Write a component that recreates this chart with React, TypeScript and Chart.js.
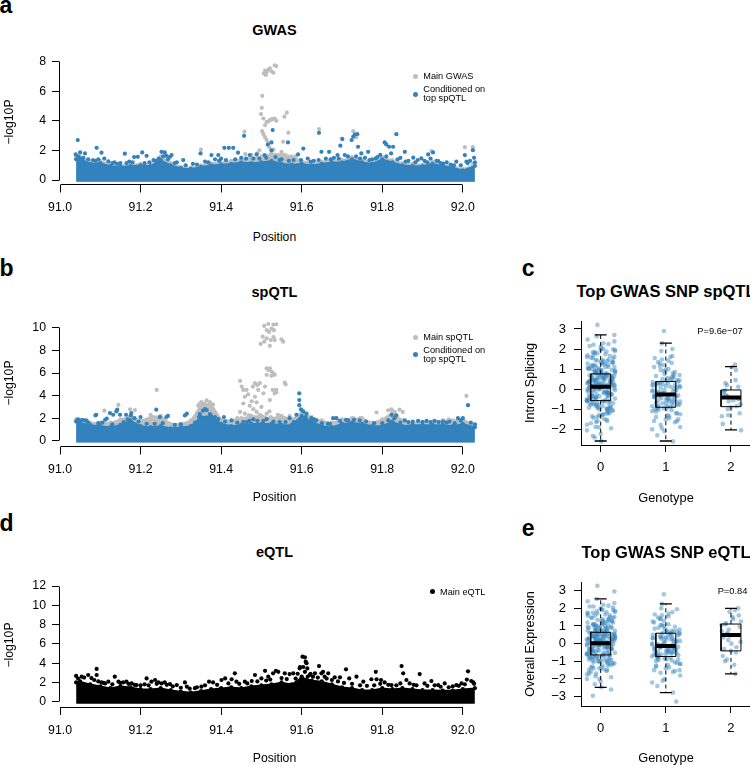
import React, { useEffect, useRef } from 'react';
import { Chart, registerables } from 'chart.js';
Chart.register(...registerables);

const FONT = "'Liberation Sans', Arial, Helvetica, sans-serif";
const BLUE = '#3182bd';
const GRAY = '#bebebe';
const BLACK = '#000000';
const JIT_BLUE = 'rgba(49,130,189,0.45)';

// ---------- axis ticks ----------
const X_TICKS = [91.0, 91.2, 91.4, 91.6, 91.8, 92.0];
const A_Y_TICKS = [0, 2, 4, 6, 8];
const B_Y_TICKS = [0, 2, 4, 6, 8, 10];
const D_Y_TICKS = [0, 2, 4, 6, 8, 10, 12];
const C_Y_TICKS = [-2, -1, 0, 1, 2, 3];
const E_Y_TICKS = [-3, -2, -1, 0, 1, 2, 3];
const GENO_TICKS = [0, 1, 2];

// ---------- dense-band upper envelope (position grid, Mb) ----------
const ENV_POS = [91.04, 91.05, 91.075, 91.1, 91.125, 91.15, 91.175, 91.2, 91.225, 91.25, 91.275, 91.3, 91.325, 91.35, 91.375, 91.4, 91.425, 91.45, 91.475, 91.5, 91.525, 91.55, 91.575, 91.6, 91.625, 91.65, 91.675, 91.7, 91.725, 91.75, 91.775, 91.8, 91.825, 91.85, 91.875, 91.9, 91.925, 91.95, 91.975, 92.0, 92.03];

// Panel a: GWAS
const A_MAIN_ENV = [1.55, 1.6, 1.25, 1.3, 1.05, 1.0, 1.05, 1.1, 1.05, 1.6, 1.15, 0.9, 0.85, 1.0, 1.15, 1.2, 1.3, 1.4, 1.5, 1.6, 1.8, 1.75, 1.6, 1.3, 1.15, 1.25, 1.35, 1.35, 1.55, 1.35, 1.25, 1.55, 1.35, 1.15, 1.1, 1.05, 1.25, 1.05, 0.95, 0.75, 1.05];
const A_COND_ENV = [1.4, 1.45, 1.1, 1.15, 0.95, 0.9, 0.95, 1.0, 0.95, 1.35, 1.0, 0.8, 0.75, 0.9, 1.0, 1.05, 1.1, 1.2, 1.15, 1.2, 1.3, 1.1, 1.05, 1.1, 1.0, 1.1, 1.2, 1.2, 1.4, 1.2, 1.1, 1.4, 1.2, 1.0, 0.95, 0.95, 1.1, 0.95, 0.85, 0.65, 0.95];
const A_MAIN_PTS = [
  [91.506, 7.2], [91.509, 7.4], [91.513, 7.3], [91.517, 7.45], [91.521, 7.55], [91.525, 7.35], [91.53, 7.25], [91.533, 7.75], [91.537, 7.7], [91.511, 7.1],
  [91.502, 5.69], [91.501, 4.88], [91.499, 4.46], [91.505, 4.16], [91.509, 3.71], [91.513, 3.94], [91.517, 3.95], [91.521, 4.05], [91.525, 4.1], [91.529, 4.13],
  [91.533, 4.15], [91.537, 4.0], [91.502, 3.3], [91.505, 3.1], [91.509, 2.9], [91.513, 2.7], [91.517, 2.5], [91.52, 2.2], [91.53, 2.05], [91.557, 4.28],
  [91.563, 4.55], [91.567, 3.2], [91.458, 3.27], [91.643, 3.45], [91.7, 2.8], [91.728, 3.3], [91.735, 2.88], [91.554, 2.59], [91.55, 1.9], [91.558, 1.7],
  [91.565, 1.6], [91.575, 1.55], [91.545, 1.6], [91.538, 1.7], [91.585, 1.6], [91.35, 2.05], [91.26, 1.9], [91.922, 1.96], [92.005, 2.22], [92.025, 2.22],
  [92.025, 1.1], [91.46, 1.75], [91.475, 1.7], [91.49, 1.8], [91.495, 2.0]
];
const A_COND_PTS = [
  [91.044, 2.7], [91.039, 1.73], [91.05, 1.87], [91.062, 1.8], [91.091, 2.18], [91.103, 1.85], [91.12, 1.27], [91.161, 1.78], [91.184, 1.55], [91.193, 1.57],
  [91.204, 1.87], [91.215, 1.64], [91.232, 1.35], [91.252, 1.91], [91.26, 1.85], [91.264, 1.64], [91.273, 1.57], [91.277, 1.69], [91.306, 1.35], [91.349, 1.8],
  [91.376, 1.69], [91.393, 1.69], [91.408, 2.18], [91.419, 2.18], [91.43, 2.18], [91.442, 1.85], [91.457, 2.99], [91.471, 1.69], [91.488, 1.73], [91.508, 1.69],
  [91.516, 2.4], [91.525, 2.0], [91.528, 3.38], [91.525, 2.54], [91.566, 2.54], [91.604, 2.13], [91.591, 1.73], [91.643, 3.19], [91.649, 1.91], [91.668, 1.91],
  [91.689, 1.69], [91.696, 2.32], [91.701, 2.77], [91.707, 1.69], [91.724, 2.7], [91.728, 2.93], [91.732, 3.08], [91.738, 3.1], [91.74, 2.25], [91.748, 1.8],
  [91.765, 1.91], [91.784, 1.46], [91.806, 2.54], [91.81, 2.41], [91.817, 2.25], [91.827, 2.25], [91.835, 3.1], [91.856, 1.91], [91.877, 1.51], [91.897, 1.46],
  [91.914, 1.73], [91.926, 1.87], [91.939, 1.28], [91.951, 1.12], [91.984, 1.24], [92.005, 1.69], [92.009, 1.24], [92.025, 2.02],
  [91.07, 1.4], [91.082, 1.35], [91.11, 1.45], [91.135, 1.2], [91.15, 1.15], [91.172, 1.25], [91.222, 1.2], [91.245, 1.45], [91.29, 1.2], [91.33, 1.1],
  [91.36, 1.25], [91.385, 1.4], [91.4, 1.45], [91.45, 1.5], [91.48, 1.45], [91.535, 1.55], [91.55, 1.4], [91.58, 1.35], [91.615, 1.45], [91.63, 1.3],
  [91.66, 1.45], [91.68, 1.5], [91.715, 1.6], [91.757, 1.5], [91.775, 1.4], [91.795, 1.7], [91.822, 1.8], [91.845, 1.5], [91.865, 1.3], [91.888, 1.35],
  [91.905, 1.3], [91.92, 1.45], [91.96, 1.2], [91.97, 1.05], [91.995, 1.0], [92.018, 1.3], [92.028, 1.5],
  [91.045, 1.6], [91.058, 1.5], [91.088, 1.3], [91.095, 1.4], [91.13, 1.15], [91.142, 1.1], [91.165, 1.15], [91.18, 1.2], [91.21, 1.15], [91.238, 1.3],
  [91.256, 1.6], [91.268, 1.4], [91.285, 1.15], [91.312, 1.0], [91.34, 1.05], [91.368, 1.2], [91.395, 1.3], [91.412, 1.35], [91.435, 1.4], [91.462, 1.45],
  [91.495, 1.45], [91.512, 1.5], [91.545, 1.35], [91.568, 1.3], [91.598, 1.35], [91.622, 1.25], [91.642, 1.35], [91.672, 1.4], [91.692, 1.45], [91.735, 1.6],
  [91.745, 1.45], [91.768, 1.35], [91.788, 1.55], [91.81, 1.6], [91.838, 1.4], [91.858, 1.25], [91.882, 1.2], [91.912, 1.2], [91.935, 1.3], [91.945, 1.15],
  [91.978, 1.0], [92.012, 1.15], [92.03, 1.2]
];

// Panel b: spQTL
const B_MAIN_ENV = [1.9, 1.8, 1.6, 1.6, 1.6, 1.9, 2.2, 1.8, 2.1, 2.2, 1.5, 1.5, 1.8, 3.2, 3.3, 1.9, 1.8, 2.0, 2.2, 2.2, 2.0, 2.2, 1.9, 2.5, 2.1, 1.8, 1.6, 1.9, 2.0, 2.0, 1.6, 1.9, 2.5, 1.8, 1.6, 1.7, 1.7, 1.8, 1.8, 1.9, 1.4];
const B_COND_ENV = [1.7, 1.6, 1.4, 1.3, 1.2, 1.4, 1.8, 1.3, 1.2, 1.3, 1.1, 1.2, 1.3, 2.1, 2.2, 1.5, 1.3, 1.4, 1.5, 1.5, 1.5, 1.4, 1.4, 2.2, 1.7, 1.3, 1.2, 1.5, 1.6, 1.5, 1.3, 1.3, 1.7, 1.3, 1.4, 1.4, 1.4, 1.4, 1.3, 1.5, 1.2];
const B_MAIN_PTS = [
  [91.507, 10.18], [91.517, 10.35], [91.53, 10.3], [91.537, 10.33], [91.513, 9.8], [91.519, 9.65], [91.525, 9.95], [91.531, 9.8], [91.503, 9.23], [91.513, 9.08],
  [91.523, 8.93], [91.53, 9.2], [91.498, 8.58], [91.507, 8.78], [91.521, 8.42], [91.533, 8.93], [91.55, 8.99], [91.554, 8.78],
  [91.513, 6.42], [91.517, 6.27], [91.521, 6.42], [91.525, 6.13], [91.53, 5.98], [91.533, 5.84], [91.513, 5.84], [91.525, 5.75], [91.537, 4.5], [91.558, 5.15],
  [91.56, 5.0], [91.528, 4.5], [91.533, 4.2], [91.521, 3.6],
  [91.447, 5.3], [91.451, 4.8], [91.455, 4.5], [91.463, 4.5], [91.467, 4.1], [91.459, 3.9], [91.455, 3.3], [91.471, 3.1], [91.48, 2.8], [91.488, 3.4],
  [91.492, 4.5], [91.496, 5.1], [91.49, 4.95], [91.484, 3.9], [91.505, 4.2], [91.509, 4.8], [91.476, 3.5], [91.447, 2.55], [91.459, 2.4], [91.469, 2.25],
  [91.488, 2.55], [91.496, 2.3], [91.505, 2.1], [91.513, 2.4], [91.523, 2.1], [91.537, 4.3], [91.484, 5.1], [91.479, 4.8], [91.5, 3.0], [91.44, 2.0],
  [91.52, 2.6], [91.541, 2.3], [91.554, 2.0], [91.57, 2.2], [91.58, 1.9], [91.59, 2.3],
  [91.24, 4.5], [91.145, 3.17], [91.11, 2.66], [91.174, 2.78], [91.186, 2.72], [91.232, 2.1], [91.225, 2.3], [91.351, 3.42], [91.364, 3.57], [91.372, 3.42],
  [91.343, 3.1], [91.358, 3.3], [91.347, 3.3], [91.38, 3.2], [91.597, 2.8], [91.62, 2.0], [91.645, 1.7], [91.686, 2.0], [91.728, 2.0], [91.745, 2.0],
  [91.786, 2.5], [91.815, 2.7], [91.823, 2.78], [91.831, 2.56], [91.843, 2.75], [91.851, 2.55], [92.009, 3.97], [91.965, 1.9], [91.952, 1.8]
];
const B_COND_PTS = [
  [91.043, 1.78], [91.047, 1.75], [91.062, 1.8], [91.066, 1.78], [91.088, 2.24], [91.09, 2.3], [91.112, 1.85], [91.116, 1.95], [91.124, 2.45], [91.132, 2.3],
  [91.14, 2.6], [91.142, 2.75], [91.149, 2.3], [91.164, 2.3], [91.176, 2.24], [91.177, 2.45], [91.2, 2.1], [91.239, 2.75], [91.248, 2.1], [91.264, 2.1],
  [91.268, 2.2], [91.31, 2.24], [91.315, 2.4], [91.347, 2.36], [91.355, 2.66], [91.364, 2.72], [91.372, 2.36], [91.36, 2.8], [91.393, 1.92], [91.407, 2.1],
  [91.426, 1.8], [91.463, 1.64], [91.48, 1.9], [91.513, 1.92], [91.57, 2.0], [91.587, 2.3], [91.594, 4.2], [91.594, 3.6], [91.594, 3.15], [91.599, 2.75],
  [91.604, 2.6], [91.612, 2.4], [91.624, 2.0], [91.636, 1.8], [91.665, 1.5], [91.678, 2.0], [91.686, 2.0], [91.715, 1.8], [91.744, 1.8], [91.823, 2.3],
  [91.835, 2.25], [91.856, 1.8], [91.876, 1.7], [91.889, 1.75], [91.91, 1.75], [91.93, 1.75], [91.951, 1.7], [91.967, 1.7], [91.988, 2.0], [92.0, 2.0],
  [92.013, 3.15],
  [91.045, 1.9], [91.055, 1.85], [91.07, 1.6], [91.095, 1.55], [91.105, 1.6], [91.13, 1.45], [91.158, 1.65], [91.168, 1.9], [91.185, 2.0], [91.195, 1.7],
  [91.215, 1.5], [91.235, 1.5], [91.255, 1.55], [91.285, 1.4], [91.3, 1.45], [91.335, 1.6], [91.345, 2.1], [91.385, 2.1], [91.41, 1.7], [91.44, 1.6],
  [91.455, 1.65], [91.47, 1.75], [91.49, 1.75], [91.505, 1.75], [91.53, 1.7], [91.545, 1.65], [91.56, 1.65], [91.58, 1.65], [91.61, 2.1], [91.63, 1.9],
  [91.65, 1.55], [91.67, 1.5], [91.695, 1.75], [91.71, 1.85], [91.73, 1.85], [91.76, 1.7], [91.78, 1.55], [91.8, 1.55], [91.815, 1.8], [91.83, 2.0],
  [91.845, 1.6], [91.865, 1.65], [91.9, 1.65], [91.92, 1.65], [91.94, 1.65], [91.96, 1.6], [91.98, 1.55], [91.995, 1.8], [92.02, 1.6], [92.03, 1.45]
];

// Panel d: eQTL
const D_MAIN_ENV = [2.0, 2.1, 1.8, 1.6, 1.4, 1.6, 1.5, 1.3, 1.3, 1.4, 1.2, 1.05, 0.95, 1.1, 1.3, 1.4, 1.5, 1.4, 1.6, 1.7, 1.8, 2.0, 1.8, 2.5, 2.2, 2.1, 1.8, 1.5, 1.4, 1.2, 1.2, 1.4, 1.3, 1.4, 1.3, 1.2, 1.2, 1.15, 1.15, 1.3, 1.4];
const D_MAIN_PTS = [
  [91.04, 2.67], [91.054, 2.6], [91.07, 2.77], [91.091, 3.4], [91.091, 2.77], [91.085, 2.25], [91.103, 2.0], [91.112, 1.9], [91.12, 2.08], [91.136, 2.6],
  [91.145, 2.08], [91.157, 2.0], [91.165, 2.08], [91.178, 1.9], [91.19, 1.73], [91.215, 2.42], [91.227, 2.08], [91.236, 2.25], [91.244, 2.0], [91.252, 1.9],
  [91.26, 2.0], [91.273, 1.83], [91.29, 1.73], [91.31, 2.0], [91.315, 1.56], [91.335, 1.4], [91.351, 1.56], [91.37, 2.08], [91.38, 2.0], [91.401, 2.25],
  [91.41, 2.42], [91.426, 2.33], [91.434, 2.94], [91.438, 2.08], [91.459, 2.08], [91.476, 2.15], [91.484, 2.77], [91.5, 2.42], [91.509, 3.2], [91.517, 2.6],
  [91.529, 2.94], [91.536, 3.2], [91.542, 3.1], [91.558, 2.94], [91.57, 2.87], [91.579, 2.94], [91.595, 3.46], [91.602, 4.67], [91.608, 4.6], [91.61, 4.15],
  [91.612, 4.0], [91.604, 3.6], [91.596, 3.6], [91.614, 3.45], [91.608, 3.1], [91.6, 2.6], [91.62, 2.77], [91.622, 2.9], [91.633, 2.94], [91.643, 3.7],
  [91.649, 2.94], [91.653, 3.1], [91.657, 2.6], [91.666, 2.94], [91.682, 2.53], [91.695, 2.53], [91.71, 3.36], [91.718, 2.42], [91.736, 2.6], [91.753, 2.08],
  [91.773, 2.33], [91.784, 3.1], [91.786, 2.33], [91.797, 2.25], [91.806, 2.0], [91.823, 1.73], [91.848, 3.7], [91.852, 2.94], [91.86, 2.25], [91.868, 1.9],
  [91.893, 2.87], [91.905, 1.9], [91.922, 2.15], [91.939, 1.73], [91.955, 1.9], [91.984, 1.73], [91.997, 1.9], [92.013, 3.15], [92.021, 2.15], [92.026, 2.0],
  [92.01, 2.3],
  [91.045, 2.4], [91.06, 2.5], [91.078, 2.45], [91.095, 2.1], [91.108, 1.95], [91.13, 1.8], [91.15, 1.95], [91.17, 1.85], [91.185, 1.75], [91.2, 1.7],
  [91.21, 1.8], [91.22, 1.7], [91.24, 1.85], [91.265, 1.75], [91.28, 1.6], [91.3, 1.45], [91.322, 1.35], [91.34, 1.5], [91.36, 1.7], [91.39, 1.75],
  [91.418, 1.9], [91.445, 1.85], [91.465, 1.9], [91.49, 2.1], [91.512, 2.2], [91.522, 2.3], [91.55, 2.45], [91.563, 2.35], [91.585, 2.4], [91.59, 2.9],
  [91.615, 2.6], [91.628, 2.6], [91.64, 2.5], [91.662, 2.4], [91.675, 2.25], [91.69, 2.1], [91.705, 1.95], [91.725, 1.85], [91.745, 1.7], [91.762, 1.65],
  [91.78, 1.7], [91.795, 1.85], [91.815, 1.75], [91.835, 1.7], [91.845, 1.9], [91.878, 1.75], [91.885, 1.7], [91.912, 1.65], [91.93, 1.7], [91.945, 1.55],
  [91.965, 1.5], [91.975, 1.6], [91.99, 1.65], [92.005, 1.8], [92.028, 1.85]
];

// ---------- Panel c: Top GWAS SNP spQTL (Intron Splicing by genotype) ----------
const C_G0 = [0.12, -0.45, 1.31, 0.67, -1.12, 0.04, 2.21, -0.83, 0.39, -0.2, 1.05, -1.7, 0.58, 0.91, -0.36, 1.74, -2.05, 0.27, -0.61, 1.46, 0.83, -0.04, 2.63, -1.35, 0.48, 0.15, -0.92, 1.19, -0.27, 0.72, 1.95, -0.53, -1.58, 0.33, 0.95, -0.12, 1.62, -0.74, 0.21, -2.41, 0.61, 1.28, -0.39, 0.08, 2.04, -1.01, 0.76, -0.58, 1.38, 0.44, -1.26, 0.02, 1.83, -0.69, 0.55, 3.2, -0.15, 0.99, -1.88, 0.31, 1.12, -0.47, 0.69, -0.97, 1.52, 0.18, -0.31, 2.38, -1.43, 0.86, -0.08, 0.41, 1.69, -0.79, 0.24, -2.6, 1.01, 0.52, -0.55, 1.24, -1.18, 0.11, 2.12, -0.66, 0.79, -0.22, 1.43, -1.52, 0.36, 0.88, -0.88, 0.06, 1.9, -0.41, 0.63, -1.07, 1.33, -0.18, 2.7, 0.47, -1.64, 0.93, -0.63, 0.29, 1.57, -0.02, -1.3, 0.74, 1.09, -0.5, 2.29, -0.86, 0.17, -2.22, 1.21, 0.57, -0.33, 1.78, -0.99, 0.38, 0.03, -1.95, 1.47, 0.81, -0.71, 0.22, 1.99, -0.26, -1.22, 0.65, 1.15, -0.43, 0.46, -1.47, 2.47, 0.14, -0.76, 1.36, 0.97, -0.1, -1.77, 0.53, 1.66, -0.59, 0.26, -2.33, 1.06, 0.71, -0.94, 1.87, -0.29, 0.43,
  0.35, -0.2, 0.9, 0.1, 1.4, -0.7, 0.55, -1.0, 1.1, 0.25, -0.4, 1.8, 0.7, -0.1, 0.45, -1.3, 0.95, 0.05, 1.25, -0.6, 2.0, 0.3, -0.85, 0.65, 1.55, -0.25, 0.15, -1.6, 0.8, 1.05, -0.45, 0.5, 2.25, -0.05, 0.4, -1.15, 1.35, 0.6, -0.3, 0.2, 1.7, -0.8, 0.85, -0.15, 0.0, 1.15, -1.9, 0.75, 0.35, -0.55, 1.6, 0.1, -0.95, 0.55, 1.95, -0.35, 0.28, 1.0, -1.4, 0.68, -0.05, 1.45, 0.42, -0.68, 0.9, 2.15, -0.2, 0.5, -1.05, 1.2, 0.18, -0.5, 0.78, 1.85, -1.25, 0.32, 0.62, -0.9, 1.3, 0.08];
const C_G1 = [-0.28, 0.35, -1.12, 0.9, -0.55, -2.1, 0.12, -0.85, 1.42, -0.4, 0.55, -1.5, -0.15, 2.28, -0.95, 0.25, -0.68, 1.1, -1.78, -0.05, 0.62, -1.25, -0.33, 1.65, -0.78, 0.08, -2.6, 0.44, -1.02, -0.2, 1.28, -0.6, 0.18, -1.38, 2.9, -0.45, 0.75, -0.9, -0.1, 1.0, -1.65, 0.3, -0.72, 1.35, -0.25, -2.3, 0.5, -1.05, -0.38, 0.95, -0.62, 0.02, -1.88, 1.55, -0.5, 0.38, -1.2, -0.12, 0.7, -0.82, 1.9, -0.3, -1.45, 0.22, -0.68, 1.2, -0.98, -0.05, 0.48, -2.0, -0.42, 0.85, -1.3, 0.15, -0.58, 1.48, -0.88, -0.18, 0.6, -1.58, 0.32, -0.35,
  -0.6, 0.1, -1.0, 0.5, -0.3, -1.6, 0.8, -0.75, 0.25, -0.45, 1.15, -1.35, -0.05, 0.65, -0.95, 0.4, -0.2, 1.6, -1.1, -0.5, 0.2, -0.85, 0.95, -0.15, -1.95, 0.3, -0.7, 1.3, -0.4, 0.05, -1.2, 0.7, -0.62, -0.25, 2.0, -1.5, 0.45, -0.8, 0.15, -0.35];
const C_G2 = [-0.45, 1.1, -0.9, 0.3, -1.3, -0.05, -0.6, 1.23, -1.73, -0.35, 0.12, -0.85, -2.05, -0.2, 0.45, -1.2, -0.5, 0.95, -0.75, -0.3, -1.0, 0.2, -0.55, -1.35, -0.1];
const C_Q1 = [-0.57, -0.9, -0.87];
const C_MED = [0.12, -0.26, -0.42];
const C_Q3 = [0.76, 0.38, -0.04];
const C_LO = [-2.58, -2.58, -2.03];
const C_HI = [2.7, 2.29, 1.12];

// ---------- Panel e: Top GWAS SNP eQTL (Overall Expression by genotype) ----------
const E_G0 = [0.02, -0.5, 1.2, 0.55, -1.1, 0.15, 2.1, -0.8, 0.35, -0.25, 0.95, -1.6, 0.48, 0.8, -0.4, 1.65, -2.0, 0.2, -0.65, 1.38, 0.7, -0.1, 2.53, -1.3, 0.4, 0.05, -0.9, 1.1, -0.3, 0.62, 1.85, -0.58, -1.5, 0.25, 0.88, -0.18, 1.52, -0.78, 0.12, -2.3, 0.5, 1.2, -0.45, -0.02, 1.95, -1.05, 0.66, -0.62, 1.3, 0.34, -1.22, -0.06, 1.75, -0.72, 0.45, 3.28, -0.2, 0.9, -1.85, 0.22, 1.02, -0.52, 0.6, -1.0, 1.45, 0.1, -0.35, 2.3, -1.4, 0.75, -0.14, 0.3, 1.58, -0.84, 0.16, -2.47, 0.92, 0.42, -0.6, 1.15, -1.15, 0.0, 2.0, -0.7, 0.68, -0.28, 1.35, -1.55, 0.28, 0.78, -0.92, -0.04, 1.8, -0.46, 0.52, -1.1, 1.25, -0.22, 2.95, 0.38, -1.7, 0.85, -0.68, 0.18, 1.48, -0.08, -1.35, 0.64, 1.0, -0.55, 2.2, -0.9, 0.08, -2.15, 1.1, 0.46, -0.38, 1.7, -1.02, 0.32, -0.01, -1.9, 1.4, 0.72, -0.75, 0.12, 1.9, -0.3, -1.25, 0.56, 1.05, -0.48, 0.36, -1.45, 2.4, 0.04, -0.8, 1.28, 0.86, -0.16, -1.75, 0.44, 1.6, -0.64, 0.2, -2.95, 0.98, 0.6, -0.98, 1.78, -0.34, 0.3, -2.6, 2.15,
  0.3, -0.3, 0.8, -0.05, 1.3, -0.8, 0.45, -1.05, 1.0, 0.15, -0.5, 1.7, 0.6, -0.2, 0.35, -1.4, 0.85, -0.1, 1.15, -0.65, 1.9, 0.2, -0.95, 0.55, 1.45, -0.35, 0.05, -1.7, 0.7, 0.95, -0.55, 0.4, 2.1, -0.15, 0.3, -1.2, 1.25, 0.5, -0.4, 0.1, 1.6, -0.9, 0.75, -0.25, -0.08, 1.05, -2.0, 0.65, 0.25, -0.62, 1.5, 0.0, -1.0, 0.45, 1.85, -0.45, 0.18, 0.9, -1.5, 0.58, -0.12, 1.35, 0.32, -0.75, 0.8, 2.05, -0.3, 0.4, -1.12, 1.1, 0.08, -0.6, 0.68, 1.75, -1.35, 0.22, 0.52, -0.98, 1.2, -0.02];
const E_G1 = [-0.13, 0.5, -1.0, 1.0, -0.45, -2.0, 0.25, -0.72, 1.55, -0.3, 0.65, -1.4, -0.02, 2.25, -0.85, 0.35, -0.55, 1.2, -1.65, 0.08, 0.7, -1.15, -0.22, 1.78, -0.65, 0.18, -2.77, 0.55, -0.92, -0.1, 1.4, -0.5, 0.3, -1.3, 2.8, -0.35, 0.85, -0.8, 0.0, 1.1, -1.55, 0.42, -0.6, 1.48, -0.15, -2.4, 0.6, -0.95, -0.28, 1.05, -0.5, 0.12, -1.8, 1.65, -0.4, 0.48, -1.1, -0.05, 0.8, -0.7, 2.0, -0.2, -1.35, 0.32, -0.58, 1.3, -0.88, 0.05, 0.58, -2.2, -0.33, 0.95, -1.2, 0.22, -0.48, 1.6, -0.76, -0.08, 0.72, -1.5, 0.4, -3.28, -0.25, 0.15,
  -0.4, 0.3, -0.9, 0.7, -0.2, -1.5, 0.9, -0.6, 0.4, -0.3, 1.25, -1.25, 0.1, 0.75, -0.85, 0.55, -0.05, 1.7, -1.05, -0.45, 0.35, -0.75, 1.05, -0.1, -2.1, 0.45, -0.62, 1.4, -0.35, 0.2, -1.15, 0.85, -0.5, -0.18, 1.95, -1.6, 0.6, -0.7, 0.28, -0.25];
const E_G2 = [0.49, 1.5, -0.4, 1.1, 0.2, -1.0, 0.8, 1.9, -0.7, 0.6, 2.0, -0.2, 1.25, 0.35, -1.71, 0.95, 1.6, -0.5, 0.1, 1.15, 0.55, -0.9, 1.4, 0.7, -0.3, 1.8, 0.0, 0.45, -1.2, 1.05];
const E_Q1 = [-0.64, -0.73, -0.41];
const E_MED = [0.02, -0.13, 0.49];
const E_Q3 = [0.64, 0.59, 1.11];
const E_LO = [-2.47, -2.77, -1.71];
const E_HI = [2.53, 2.25, 2.0];

// horizontal jitter offsets (genotype units), cycled over points
const JITTER = [-0.17, 0.05, 0.14, -0.08, 0.21, -0.02, -0.13, 0.1, -0.2, 0.03, 0.16, -0.11, 0.07, -0.05, 0.19, -0.15, 0.0, 0.12, -0.07, -0.21, 0.09, 0.17, -0.03, -0.12, 0.22, -0.09, 0.04, -0.18, 0.11, 0.01, -0.06];
const JITTER_SCALE = [1, 1, 0.7];

// ---------- plugins ----------
const alignPx = (p: number) => Math.round(p - 0.5) + 0.5;

const rAxisLines = {
  id: 'rAxisLines',
  afterDraw(chart: any, _args: any, opts: any) {
    if (!opts || !opts.enabled) return;
    const { ctx, chartArea, scales } = chart;
    const xs = scales.x, ys = scales.y;
    const xt = xs.ticks, yt = ys.ticks;
    ctx.save();
    ctx.strokeStyle = '#000';
    ctx.lineWidth = 1;
    ctx.beginPath();
    const yb = alignPx(chartArea.bottom);
    ctx.moveTo(alignPx(xs.getPixelForValue(xt[0].value)), yb);
    ctx.lineTo(alignPx(xs.getPixelForValue(xt[xt.length - 1].value)), yb);
    const xl = alignPx(chartArea.left);
    ctx.moveTo(xl, alignPx(ys.getPixelForValue(yt[0].value)));
    ctx.lineTo(xl, alignPx(ys.getPixelForValue(yt[yt.length - 1].value)));
    ctx.stroke();
    ctx.restore();
  },
};

const minusFmt = (v: any) => String(v).replace('-', '\u2212');

function axisX(opts: any) {
  return {
    type: 'linear',
    min: opts.min,
    max: opts.max,
    afterBuildTicks: (s: any) => { s.ticks = opts.ticks.map((v: number) => ({ value: v })); },
    afterFit: (s: any) => { s.height = opts.height; s.paddingLeft = 0; s.paddingRight = 0; },
    grid: { display: true, drawOnChartArea: false, drawTicks: true, tickLength: opts.tickLength, color: '#000', lineWidth: 1 },
    border: { display: opts.border, color: '#000', width: 1 },
    ticks: { color: '#000', font: { family: FONT, size: opts.fontSize }, padding: opts.padding, maxRotation: 0, minRotation: 0, autoSkip: false, callback: opts.fmt },
  };
}
function axisY(opts: any) {
  return {
    type: 'linear',
    min: opts.min,
    max: opts.max,
    afterBuildTicks: (s: any) => { s.ticks = opts.ticks.map((v: number) => ({ value: v })); },
    afterFit: (s: any) => { s.width = opts.width; s.paddingTop = 0; s.paddingBottom = 0; },
    grid: { display: true, drawOnChartArea: false, drawTicks: true, tickLength: opts.tickLength, color: '#000', lineWidth: 1 },
    border: { display: opts.border, color: '#000', width: 1 },
    ticks: { color: '#000', font: { family: FONT, size: opts.fontSize }, padding: opts.padding, autoSkip: false, callback: opts.fmt },
  };
}

const basePlugins = { legend: { display: false }, tooltip: { enabled: false }, title: { display: false } };
const baseOptions = (padTop: number, padRight: number) => ({
  responsive: false,
  animation: false,
  events: [],
  layout: { padding: { top: padTop, right: padRight, left: 0, bottom: 0 }, autoPadding: false },
  plugins: basePlugins,
});

function envDataset(env: number[], color: string, base: number, order: number) {
  return {
    type: 'line',
    data: ENV_POS.map((x, i) => ({ x, y: env[i] })),
    borderColor: color,
    borderWidth: 1.5,
    backgroundColor: color,
    fill: { value: base },
    pointRadius: 2.1,
    pointBackgroundColor: color,
    pointBorderWidth: 0,
    tension: 0,
    showLine: true,
    order,
  };
}
function ptsDataset(pts: number[][], color: string, order: number) {
  return {
    type: 'scatter',
    data: pts.map(([x, y]) => ({ x, y })),
    backgroundColor: color,
    borderWidth: 0,
    pointRadius: 2.1,
    order,
  };
}

function manhattan(p: any) {
  return () => ({
    type: 'scatter',
    data: { datasets: p.datasets },
    options: {
      ...baseOptions(p.padTop, p.padRight),
      scales: {
        x: axisX({ min: 90.9975, max: 92.07, ticks: X_TICKS, height: p.xHeight, tickLength: 8, border: false, fontSize: 12.3, padding: 8, fmt: (v: any) => Number(v).toFixed(1) }),
        y: axisY({ min: p.yMin, max: p.yMax, ticks: p.yTicks, width: 59, tickLength: 7, border: false, fontSize: 12.3, padding: 6, fmt: (v: any) => String(v) }),
      },
      plugins: { ...basePlugins, rAxisLines: { enabled: true } },
    },
    plugins: [rAxisLines],
  });
}

function boxDatasets(groups: number[][], q1: number[], med: number[], q3: number[], lo: number[], hi: number[]) {
  const HW = 0.153; // half box width
  const CW = 0.092; // half staple width
  const jit: any[] = [];
  groups.forEach((vals, g) => {
    vals.forEach((v, i) => jit.push({ x: g + JITTER[(i * 7 + g) % JITTER.length] * JITTER_SCALE[g], y: v }));
  });
  const box: any[] = [], wh: any[] = [], caps: any[] = [], mid: any[] = [];
  GENO_TICKS.forEach((g, k) => {
    box.push({ x: g - HW, y: q1[k] }, { x: g + HW, y: q1[k] }, { x: g + HW, y: q3[k] }, { x: g - HW, y: q3[k] }, { x: g - HW, y: q1[k] }, { x: g, y: null });
    wh.push({ x: g, y: q3[k] }, { x: g, y: hi[k] }, { x: g, y: null }, { x: g, y: q1[k] }, { x: g, y: lo[k] }, { x: g, y: null });
    caps.push({ x: g - CW, y: hi[k] }, { x: g + CW, y: hi[k] }, { x: g, y: null }, { x: g - CW, y: lo[k] }, { x: g + CW, y: lo[k] }, { x: g, y: null });
    mid.push({ x: g - HW, y: med[k] }, { x: g + HW, y: med[k] }, { x: g, y: null });
  });
  const line = (data: any[], w: number, dash: number[], order: number) => ({
    type: 'line', data, borderColor: '#000', borderWidth: w, borderDash: dash, pointRadius: 0, showLine: true, spanGaps: false, fill: false, tension: 0, order, borderCapStyle: 'butt',
  });
  return [
    { type: 'scatter', data: jit, backgroundColor: JIT_BLUE, borderWidth: 0, pointRadius: 2.3, order: 5 },
    line(wh, 1, [4, 3], 3),
    line(caps, 1.3, [], 2),
    line(box, 1, [], 1),
    line(mid, 4, [], 0),
  ];
}

function boxChart(p: any) {
  return () => ({
    type: 'scatter',
    data: { datasets: p.datasets },
    options: {
      ...baseOptions(p.padTop, 0),
      scales: {
        x: axisX({ min: -0.302, max: 2.292, ticks: GENO_TICKS, height: p.xHeight, tickLength: 7, border: true, fontSize: 13, padding: 8, fmt: (v: any) => String(v) }),
        y: axisY({ min: p.yMin, max: p.yMax, ticks: p.yTicks, width: 81, tickLength: 7, border: true, fontSize: 13, padding: 8, fmt: minusFmt }),
      },
    },
  });
}

// ---------- components ----------
function ChartCanvas({ left, top, width, height, make }: any) {
  const ref = useRef<HTMLCanvasElement | null>(null);
  useEffect(() => {
    const ch = new Chart(ref.current as HTMLCanvasElement, make() as any);
    return () => ch.destroy();
  }, []);
  return <canvas ref={ref} width={width} height={height} style={{ position: 'absolute', left, top, width, height }} />;
}

function Txt({ x, base, size, bold, anchor = 'middle', children }: any) {
  const style: any = {
    position: 'absolute', top: base - 0.8465 * size, fontFamily: FONT, fontSize: size,
    fontWeight: bold ? 'bold' : 'normal', lineHeight: 1, whiteSpace: 'nowrap', color: '#000',
  };
  if (anchor === 'middle') { style.left = x; style.transform = 'translateX(-50%)'; }
  else style.left = x;
  return <div style={style}>{children}</div>;
}
function VTxt({ x, y, size, children }: any) {
  return (
    <div style={{ position: 'absolute', left: x, top: y, transform: 'translate(-50%,-50%) rotate(-90deg)', fontFamily: FONT, fontSize: size, lineHeight: 1, whiteSpace: 'nowrap', color: '#000' }}>
      {children}
    </div>
  );
}
function Dot({ x, y, color }: any) {
  return <div style={{ position: 'absolute', left: x - 2.5, top: y - 2.5, width: 5, height: 5, borderRadius: '50%', background: color }} />;
}

const makeA = manhattan({
  padTop: 8.7, padRight: 9, xHeight: 45.5, yMin: -0.3, yMax: 8.2, yTicks: A_Y_TICKS,
  datasets: [
    envDataset(A_MAIN_ENV, GRAY, -0.12, 4),
    ptsDataset(A_MAIN_PTS, GRAY, 3),
    envDataset(A_COND_ENV, BLUE, -0.12, 2),
    ptsDataset(A_COND_PTS, BLUE, 1),
  ],
});
const makeB = manhattan({
  padTop: 6.2, padRight: 9, xHeight: 48.5, yMin: -0.515, yMax: 10.6, yTicks: B_Y_TICKS,
  datasets: [
    envDataset(B_MAIN_ENV, GRAY, -0.16, 4),
    ptsDataset(B_MAIN_PTS, GRAY, 3),
    envDataset(B_COND_ENV, BLUE, -0.16, 2),
    ptsDataset(B_COND_PTS, BLUE, 1),
  ],
});
const makeD = manhattan({
  padTop: 7.2, padRight: 9, xHeight: 48, yMin: -0.55, yMax: 12.4, yTicks: D_Y_TICKS,
  datasets: [
    envDataset(D_MAIN_ENV, BLACK, -0.2, 2),
    ptsDataset(D_MAIN_PTS, BLACK, 1),
  ],
});
const makeC = boxChart({
  padTop: 21.7, xHeight: 55, yMin: -2.78, yMax: 3.36, yTicks: C_Y_TICKS,
  datasets: boxDatasets([C_G0, C_G1, C_G2], C_Q1, C_MED, C_Q3, C_LO, C_HI),
});
const makeE = boxChart({
  padTop: 22.7, xHeight: 54, yMin: -3.53, yMax: 3.45, yTicks: E_Y_TICKS,
  datasets: boxDatasets([E_G0, E_G1, E_G2], E_Q1, E_MED, E_Q3, E_LO, E_HI),
});

export default function App() {
  return (
    <div style={{ position: 'absolute', left: 0, top: 0, width: 750, height: 765, background: '#fff', overflow: 'hidden' }}>
      <ChartCanvas left={0} top={50} width={500} height={180} make={makeA} />
      <ChartCanvas left={0} top={315} width={500} height={180} make={makeB} />
      <ChartCanvas left={0} top={575} width={500} height={180} make={makeD} />
      <ChartCanvas left={500} top={300} width={250} height={200} make={makeC} />
      <ChartCanvas left={500} top={560} width={250} height={200} make={makeE} />

      <Txt x={-0.5} base={13.3} size={23} bold anchor="start">a</Txt>
      <Txt x={-0.5} base={276.7} size={23} bold anchor="start">b</Txt>
      <Txt x={521.7} base={276.7} size={23} bold anchor="start">c</Txt>
      <Txt x={-0.5} base={531.7} size={23} bold anchor="start">d</Txt>
      <Txt x={521.7} base={536.7} size={23} bold anchor="start">e</Txt>

      <Txt x={274.5} base={35} size={14.5} bold>GWAS</Txt>
      <Txt x={274.5} base={297.5} size={14.5} bold>spQTL</Txt>
      <Txt x={274.5} base={557.3} size={14.5} bold>eQTL</Txt>
      <Txt x={666} base={296.5} size={16.5} bold>Top GWAS SNP spQTL</Txt>
      <Txt x={666} base={557.8} size={16.5} bold>Top GWAS SNP eQTL</Txt>

      <Txt x={274.5} base={241.7} size={12.2}>Position</Txt>
      <Txt x={274.5} base={501.5} size={12.2}>Position</Txt>
      <Txt x={274.5} base={762.5} size={12.2}>Position</Txt>
      <Txt x={666} base={502.5} size={12.8}>Genotype</Txt>
      <Txt x={666} base={762.5} size={12.8}>Genotype</Txt>

      <VTxt x={9} y={122} size={12.2}>{'\u2212log10P'}</VTxt>
      <VTxt x={9} y={383} size={12.2}>{'\u2212log10P'}</VTxt>
      <VTxt x={9} y={644.5} size={12.2}>{'\u2212log10P'}</VTxt>
      <VTxt x={530} y={383.4} size={12.6}>Intron Splicing</VTxt>
      <VTxt x={530} y={644.3} size={12.6}>Overall Expression</VTxt>

      <Dot x={415.3} y={76.7} color={GRAY} />
      <Txt x={423.3} base={80} size={9.2} anchor="start">Main GWAS</Txt>
      <Dot x={415.3} y={94} color={BLUE} />
      <Txt x={423.3} base={92.3} size={9.2} anchor="start">Conditioned on</Txt>
      <Txt x={423.3} base={101.5} size={9.2} anchor="start">top spQTL</Txt>

      <Dot x={415.3} y={337.3} color={GRAY} />
      <Txt x={423.3} base={340.7} size={9.2} anchor="start">Main spQTL</Txt>
      <Dot x={415.3} y={354} color={BLUE} />
      <Txt x={423.3} base={353.3} size={9.2} anchor="start">Conditioned on</Txt>
      <Txt x={423.3} base={362.5} size={9.2} anchor="start">top spQTL</Txt>

      <Dot x={432.3} y={591.7} color={BLACK} />
      <Txt x={440} base={595.7} size={9.2} anchor="start">Main eQTL</Txt>

      <Txt x={720} base={335} size={9.3}>{'P=9.6e\u221207'}</Txt>
      <Txt x={732.5} base={595} size={9.3}>P=0.84</Txt>
    </div>
  );
}
